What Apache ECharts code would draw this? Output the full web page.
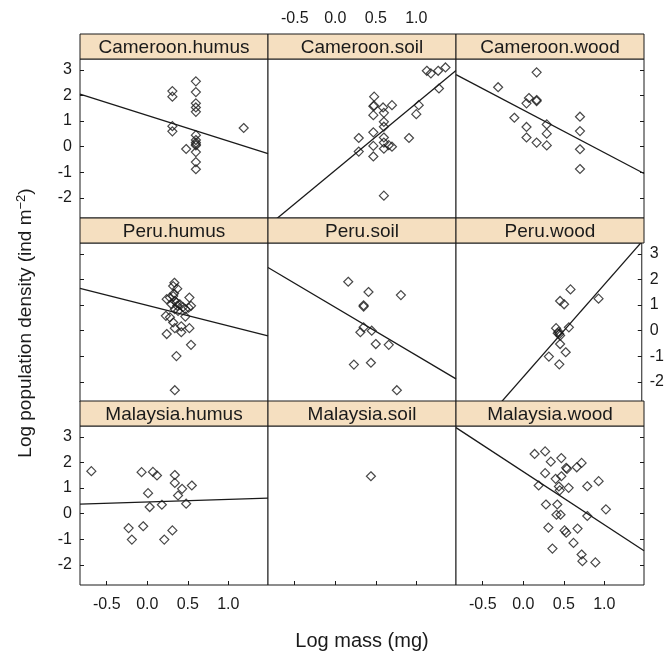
<!DOCTYPE html>
<html>
<head>
<meta charset="utf-8">
<script src="https://cdn.jsdelivr.net/npm/echarts@6/dist/echarts.min.js"></script>
<style>
  html, body { margin: 0; padding: 0; background: #fff; }
  #main { width: 667px; height: 653px; }
</style>
</head>
<body>
<div id="main"></div>
<script>
// panel names, in lattice order (row by row from the top)
var panelNames = ['Cameroon.humus', 'Cameroon.soil', 'Cameroon.wood',
                  'Peru.humus', 'Peru.soil', 'Peru.wood',
                  'Malaysia.humus', 'Malaysia.soil', 'Malaysia.wood'];

var xTicks = [-0.5, 0.0, 0.5, 1.0];
var yTicks = [-2, -1, 0, 1, 2, 3];

// points [log mass, log density]
var cameroonHumus = [[0.31,2.17],[0.31,1.95],[0.31,0.8],[0.31,0.6],[0.6,2.55],[0.6,2.13],[0.6,1.69],
  [0.6,1.53],[0.6,1.36],[0.6,0.45],[0.6,0.26],[0.6,0.16],[0.6,0.1],[0.6,0.05],[0.6,-0.21],[0.6,-0.6],
  [0.6,-0.88],[0.48,-0.09],[1.19,0.73]];
var cameroonSoil = [[1.13,2.96],[1.18,2.86],[1.27,2.96],[1.36,3.09],[1.28,2.27],[1.03,1.62],[1.0,1.27],
  [0.91,0.34],[0.48,1.95],[0.47,1.58],[0.47,1.23],[0.59,1.53],[0.7,1.62],[0.6,1.32],[0.6,0.97],
  [0.6,0.78],[0.29,0.34],[0.47,0.56],[0.6,0.36],[0.47,0.03],[0.6,0.16],[0.6,-0.08],[0.66,0.06],
  [0.7,0.0],[0.29,-0.19],[0.47,-0.38],[0.6,-1.91],[0.48,1.6]];
var cameroonWood = [[-0.31,2.32],[0.165,2.9],[0.07,1.9],[0.04,1.69],[0.165,1.78],[0.165,1.82],
  [-0.11,1.13],[0.04,0.77],[0.04,0.36],[0.165,0.16],[0.29,0.87],[0.29,0.51],[0.29,0.05],[0.7,1.17],
  [0.7,0.61],[0.7,-0.1],[0.7,-0.87]];
var peruHumus = [[0.335,1.87],[0.32,1.74],[0.37,1.64],[0.24,1.23],[0.28,1.29],[0.32,1.35],[0.34,1.16],
  [0.3,1.03],[0.37,0.97],[0.4,1.03],[0.52,1.29],[0.54,0.97],[0.47,0.84],[0.51,0.9],[0.34,0.84],
  [0.38,0.77],[0.23,0.58],[0.28,0.52],[0.47,0.55],[0.32,0.32],[0.24,-0.13],[0.34,0.1],[0.42,-0.06],
  [0.42,0.17],[0.52,0.1],[0.54,-0.55],[0.36,-0.99],[0.34,-2.32],[0.33,1.45],[0.36,1.1],[0.44,0.92]];
var peruSoil = [[0.16,1.91],[0.41,1.51],[0.81,1.39],[0.35,0.99],[0.35,0.94],[0.35,0.13],[0.31,-0.06],
  [0.45,0.0],[0.5,-0.52],[0.66,-0.55],[0.23,-1.32],[0.44,-1.25],[0.76,-2.32]];
var peruWood = [[0.6,1.61],[0.47,1.16],[0.52,1.03],[0.95,1.25],[0.42,0.1],[0.58,0.13],[0.45,-0.04],
  [0.46,-0.13],[0.47,-0.19],[0.44,-0.1],[0.47,-0.52],[0.54,-0.84],[0.33,-1.01],[0.46,-1.31]];
var malaysiaHumus = [[-0.69,1.66],[-0.07,1.62],[0.07,1.63],[0.12,1.49],[0.34,1.51],[0.34,1.2],
  [0.43,0.97],[0.55,1.1],[0.38,0.71],[0.01,0.8],[0.48,0.39],[0.18,0.35],[0.03,0.26],[-0.23,-0.56],
  [-0.05,-0.49],[-0.19,-1.01],[0.21,-1.01],[0.31,-0.65]];
var malaysiaSoil = [[0.44,1.46]];
var malaysiaWood = [[0.14,2.33],[0.27,2.43],[0.34,2.03],[0.47,2.17],[0.72,1.98],[0.66,1.81],[0.53,1.79],
  [0.54,1.75],[0.27,1.58],[0.47,1.46],[0.4,1.36],[0.19,1.1],[0.44,1.06],[0.56,1.01],[0.45,0.91],
  [0.79,1.07],[0.93,1.27],[0.28,0.36],[0.42,0.36],[0.41,-0.04],[0.46,-0.04],[0.79,-0.09],[1.02,0.17],
  [0.31,-0.54],[0.51,-0.65],[0.53,-0.74],[0.67,-0.58],[0.62,-1.14],[0.36,-1.36],[0.72,-1.59],
  [0.73,-1.85],[0.89,-1.9]];

// fitted lines [intercept, slope]; null = no line
var fitIntercepts = [1.22, -0.92, 1.43, 0.99, 0.91, -1.84, 0.46, null, 1.64];
var fitSlopes = [-1.0, 2.61, -1.66, -0.80, -1.87, 3.56, 0.10, null, -2.07];

var panelPoints = [cameroonHumus, cameroonSoil, cameroonWood, peruHumus, peruSoil, peruWood,
                   malaysiaHumus, malaysiaSoil, malaysiaWood];

var xMin = -0.83, xMax = 1.49, yMin = -2.78, yMax = 3.42;

var colLeft = [80, 268, 456], panelW = 188;
var stripTop = [34, 218, 401], stripH = 25, panelH = 159;
var font = '"Liberation Sans", Arial, sans-serif';
var ink = '#1a1a1a';
var stripFill = '#f5dfc0';

var grids = [], xAxes = [], yAxes = [], series = [], graphics = [];

for (var g = 0; g < 9; g++) {
  var r = Math.floor(g / 3), c = g % 3;
  grids.push({
    left: colLeft[c], top: stripTop[r] + stripH, width: panelW, height: panelH,
    show: true, borderColor: ink, borderWidth: 1, backgroundColor: '#fff'
  });
  xAxes.push({
    gridIndex: g, type: 'value', min: xMin, max: xMax, position: 'bottom',
    axisLine: { show: false, onZero: false }, splitLine: { show: false },
    axisTick: { show: r === 2, inside: true, length: 4, customValues: xTicks, lineStyle: { color: ink } },
    axisLabel: { show: r === 2 && c !== 1, customValues: xTicks, margin: 12,
      fontFamily: font, fontSize: 16, color: ink,
      formatter: function (v) { return v.toFixed(1); } }
  });
  yAxes.push({
    gridIndex: g, type: 'value', min: yMin, max: yMax, position: c === 2 ? 'right' : 'left',
    axisLine: { show: false, onZero: false }, splitLine: { show: false },
    axisTick: { show: c !== 1, inside: true, length: 4, customValues: yTicks, lineStyle: { color: ink } },
    axisLabel: { show: (c === 0 && r !== 1) || (c === 2 && r === 1), customValues: yTicks, margin: 8,
      fontFamily: font, fontSize: 16, color: ink }
  });
  series.push({
    type: 'scatter', xAxisIndex: g, yAxisIndex: g, data: panelPoints[g],
    symbol: 'diamond', symbolSize: 9, silent: true,
    itemStyle: { color: 'rgba(255,255,255,0)', borderColor: ink, borderWidth: 1.2 }
  });
  if (fitIntercepts[g] !== null) {
    var a = fitIntercepts[g], b = fitSlopes[g];
    series.push({
      type: 'line', xAxisIndex: g, yAxisIndex: g, clip: true, symbol: 'none', silent: true,
      data: [[xMin, a + b * xMin], [xMax, a + b * xMax]],
      lineStyle: { color: ink, width: 1.3 }, z: 1
    });
  }
  // strip
  graphics.push({
    type: 'rect', shape: { x: colLeft[c], y: stripTop[r], width: panelW, height: stripH },
    style: { fill: stripFill, stroke: ink, lineWidth: 1 }, z: 100
  });
  graphics.push({
    type: 'text', x: colLeft[c] + panelW / 2, y: stripTop[r] + stripH / 2 + 1,
    style: { text: panelNames[g], align: 'center', verticalAlign: 'middle',
      font: '19px ' + font, fill: ink }, z: 101
  });
}

// top axis on Cameroon.soil
xAxes.push({
  gridIndex: 1, type: 'value', min: xMin, max: xMax, position: 'top',
  axisLine: { show: false, onZero: false }, splitLine: { show: false }, axisTick: { show: false },
  axisLabel: { show: true, customValues: xTicks, margin: 32, fontFamily: font, fontSize: 16, color: ink,
    formatter: function (v) { return v.toFixed(1); } }
});

// axis titles
graphics.push({
  type: 'text', x: 362, y: 641,
  style: { text: 'Log mass (mg)', align: 'center', verticalAlign: 'middle', font: '20px ' + font, fill: ink }
});
graphics.push({
  type: 'text', x: 26, y: 323, rotation: Math.PI / 2,
  style: {
    text: '{a|Log population density (ind m}{s|−2}{a|)}',
    align: 'center', verticalAlign: 'middle',
    rich: {
      a: { fontFamily: font, fontSize: 19, fill: ink, color: ink },
      s: { fontFamily: font, fontSize: 13, fill: ink, color: ink, verticalAlign: 'top', padding: [0, 0, 10, 0] }
    }
  }
});

var chart = echarts.init(document.getElementById('main'), null, { renderer: 'canvas' });
chart.setOption({
  animation: false,
  backgroundColor: '#fff',
  grid: grids,
  xAxis: xAxes,
  yAxis: yAxes,
  series: series,
  graphic: graphics
});
</script>
</body>
</html>
